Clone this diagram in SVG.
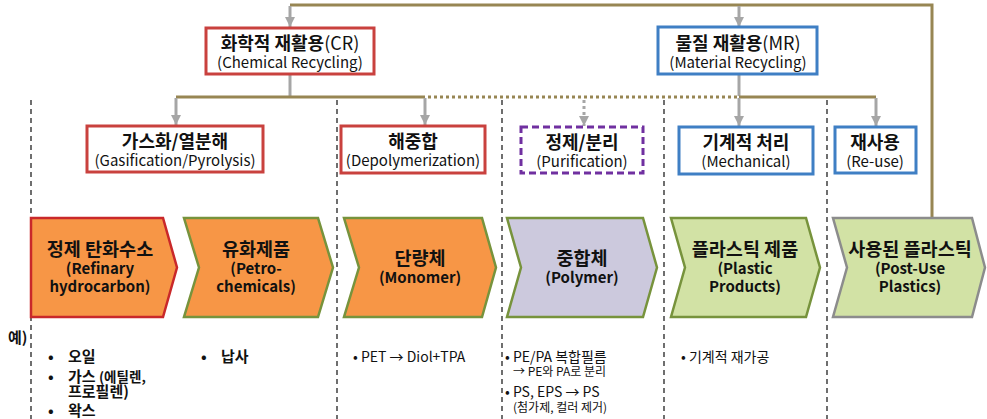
<svg xmlns="http://www.w3.org/2000/svg" width="987" height="419" viewBox="0 0 987 419">
<style>
text{font-family:"Noto Sans CJK KR","Noto Sans",sans-serif;fill:#111;}
.t{font-size:18px;font-weight:bold;text-anchor:middle;}
.s{font-size:15px;text-anchor:middle;}
.ct{font-size:18.5px;font-weight:bold;text-anchor:middle;}
.ce{font-size:15px;font-weight:bold;text-anchor:middle;}
.red{fill:#fff;stroke:#c9413e;stroke-width:3;}
.blue{fill:#fff;stroke:#3f7fc4;stroke-width:3;}
.pur{fill:#fff;stroke:#7030a0;stroke-width:3;stroke-dasharray:7 4;}
.ol{fill:none;stroke:#978653;stroke-width:3;}
.old{fill:none;stroke:#978653;stroke-width:3;stroke-dasharray:3 3;}
.gr{fill:none;stroke:#a6a6a6;stroke-width:3;}
.grd{fill:none;stroke:#a6a6a6;stroke-width:3;stroke-dasharray:3 3;}
.dv{fill:none;stroke:#222;stroke-width:1.3;stroke-dasharray:5 4;}
.b{font-size:15px;font-weight:bold;}
.n{font-size:14px;}
.m{font-size:12px;}
</style>
<defs>
<marker id="ah" markerUnits="userSpaceOnUse" markerWidth="12" markerHeight="10" refX="10" refY="5" orient="auto">
<path d="M0,0 L10,5 L0,10 z" fill="#a6a6a6"/>
</marker>
</defs>

<g id="dividers">
<line class="dv" x1="31" y1="100" x2="31" y2="419"/>
<line class="dv" x1="337" y1="100" x2="337" y2="419"/>
<line class="dv" x1="502" y1="100" x2="502" y2="419"/>
<line class="dv" x1="664" y1="100" x2="664" y2="419"/>
<line class="dv" x1="827" y1="100" x2="827" y2="419"/>
</g>

<g id="connectors">
<polyline class="ol" points="932,218 932,5 290,5"/>
<line class="gr" x1="290" y1="6" x2="290" y2="27" marker-end="url(#ah)"/>
<line class="gr" x1="739" y1="6" x2="739" y2="27" marker-end="url(#ah)"/>
<line class="gr" x1="290" y1="74" x2="290" y2="96"/>
<line class="gr" x1="739" y1="74" x2="739" y2="96"/>
<line class="ol" x1="176" y1="97" x2="425" y2="97"/>
<line class="old" x1="428" y1="97" x2="739" y2="97"/>
<line class="ol" x1="739" y1="97" x2="876" y2="97"/>
<line class="gr" x1="176" y1="98" x2="176" y2="125" marker-end="url(#ah)"/>
<line class="gr" x1="425" y1="98" x2="425" y2="125" marker-end="url(#ah)"/>
<line class="grd" x1="584" y1="100" x2="584" y2="126" marker-end="url(#ah)"/>
<line class="gr" x1="739" y1="98" x2="739" y2="126" marker-end="url(#ah)"/>
<line class="gr" x1="876" y1="98" x2="876" y2="126" marker-end="url(#ah)"/>
</g>

<g id="cr">
<rect class="red" x="206" y="28" width="168" height="46"/>
<text x="290" y="50" class="t">화학적 재활용<tspan font-weight="normal">(CR)</tspan></text>
<text x="290" y="68" class="s">(Chemical Recycling)</text>
</g>
<g id="mr">
<rect class="blue" x="658" y="27" width="159" height="47"/>
<text x="738" y="50" class="t">물질 재활용<tspan font-weight="normal">(MR)</tspan></text>
<text x="738" y="68" class="s">(Material Recycling)</text>
</g>

<g id="gasification">
<rect class="red" x="87" y="126" width="176" height="46"/>
<text x="175" y="148" class="t">가스화/열분해</text>
<text x="175" y="166" class="s">(Gasification/Pyrolysis)</text>
</g>
<g id="depolymerization">
<rect class="red" x="341" y="126" width="144" height="47"/>
<text x="413" y="148" class="t">해중합</text>
<text x="413" y="166" class="s">(Depolymerization)</text>
</g>
<g id="purification">
<rect class="pur" x="521" y="127" width="122" height="46"/>
<text x="582" y="149" class="t">정제/분리</text>
<text x="582" y="167" class="s">(Purification)</text>
</g>
<g id="mechanical">
<rect class="blue" x="679" y="127" width="134" height="47"/>
<text x="746" y="149" class="t">기계적 처리</text>
<text x="746" y="167" class="s">(Mechanical)</text>
</g>
<g id="reuse">
<rect class="blue" x="835" y="127" width="81" height="46"/>
<text x="875" y="149" class="t">재사용</text>
<text x="875" y="167" class="s">(Re-use)</text>
</g>

<g id="refinary">
<path d="M31,218 L163,218 L177,267.5 L163,317 L31,317 Z" fill="#f79646" stroke="#c9282a" stroke-width="2.5"/>
<text x="100" y="256" class="ct">정제 탄화수소</text>
<text x="100" y="274" class="ce">(Refinary</text>
<text x="100" y="292" class="ce">hydrocarbon)</text>
</g>
<g id="petro">
<path d="M184,218 L318,218 L333,267.5 L318,317 L184,317 L199,267.5 Z" fill="#f79646" stroke="#77933c" stroke-width="2.5"/>
<text x="256" y="256" class="ct">유화제품</text>
<text x="256" y="274" class="ce">(Petro-</text>
<text x="256" y="292" class="ce">chemicals)</text>
</g>
<g id="monomer">
<path d="M344,218 L482,218 L496,267.5 L482,317 L344,317 L359,267.5 Z" fill="#f79646" stroke="#77933c" stroke-width="2.5"/>
<text x="420" y="265" class="ct">단량체</text>
<text x="420" y="283" class="ce">(Monomer)</text>
</g>
<g id="polymer">
<path d="M507,218 L643,218 L657,267.5 L643,317 L507,317 L521,267.5 Z" fill="#ccc9dd" stroke="#77933c" stroke-width="2.5"/>
<text x="582" y="265" class="ct">중합체</text>
<text x="582" y="283" class="ce">(Polymer)</text>
</g>
<g id="products">
<path d="M671,218 L806,218 L820,267.5 L806,317 L671,317 L685,267.5 Z" fill="#d2e2a5" stroke="#77933c" stroke-width="2.5"/>
<text x="745" y="256" class="ct">플라스틱 제품</text>
<text x="745" y="274" class="ce">(Plastic</text>
<text x="745" y="292" class="ce">Products)</text>
</g>
<g id="postuse">
<path d="M833,218 L972,218 L985,267.5 L972,317 L833,317 L847,267.5 Z" fill="#d2e2a5" stroke="#8c8c8c" stroke-width="2.5"/>
<text x="910" y="256" class="ct">사용된 플라스틱</text>
<text x="910" y="274" class="ce">(Post-Use</text>
<text x="910" y="292" class="ce">Plastics)</text>
</g>

<g id="examples">
<text x="8" y="343" class="b">예)</text>
<text x="48" y="362" class="b">•</text><text x="68" y="362" class="b">오일</text>
<text x="48" y="382" class="b">•</text><text x="68" y="382" class="b">가스 <tspan font-size="13.5px">(에틸렌,</tspan></text>
<text x="68" y="397" class="b" font-size="13.5px">프로필렌)</text>
<text x="48" y="416" class="b">•</text><text x="68" y="416" class="b">왁스</text>
<text x="201" y="362" class="b">•</text><text x="221" y="362" class="b">납사</text>
<text x="353" y="362" class="n">• PET → Diol+TPA</text>
<text x="505" y="362" class="n">• PE/PA 복합필름</text>
<text x="513" y="376" class="m">→ PE와 PA로 분리</text>
<text x="505" y="397" class="n">• PS, EPS → PS</text>
<text x="513" y="412" class="m">(첨가제, 컬러 제거)</text>
<text x="681" y="362" class="n">• 기계적 재가공</text>
</g>
</svg>
